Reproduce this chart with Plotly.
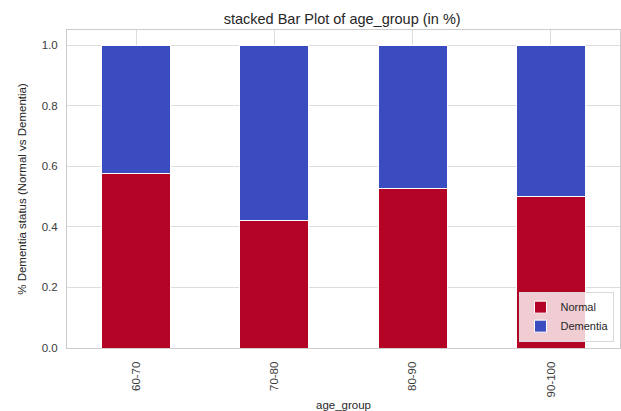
import plotly.graph_objects as go

categories = ["60-70", "70-80", "80-90", "90-100"]
normal = [0.577, 0.421, 0.527, 0.499]
dementia = [round(1 - v, 3) for v in normal]
y_ticks = [0.0, 0.2, 0.4, 0.6, 0.8, 1.0]

fig = go.Figure()
fig.add_trace(go.Bar(x=categories, y=normal, name="Normal", marker=dict(color="#b40426", line=dict(color="white", width=1)), width=0.5))
fig.add_trace(go.Bar(x=categories, y=dementia, name="Dementia", marker=dict(color="#3b4cc0", line=dict(color="white", width=1)), width=0.5))

font_family = "Liberation Sans, Arial, sans-serif"
fig.update_layout(
    barmode="stack",
    width=621, height=411,
    margin=dict(l=67, r=1, t=30, b=63),
    paper_bgcolor="white", plot_bgcolor="white",
    font=dict(family=font_family, color="#262626", size=11),
    title=dict(text="stacked Bar Plot of age_group (in %)", x=0.551, xanchor="center", y=0.955, yanchor="middle", font=dict(size=14.5, color="#262626")),
    legend=dict(x=0.99, y=0.02, xanchor="right", yanchor="bottom", bgcolor="rgba(255,255,255,0.8)", bordercolor="#d9d9d9", borderwidth=1,
                font=dict(size=11, color="#262626"), traceorder="normal", itemwidth=30, tracegroupgap=0),
    showlegend=True,
)
fig.update_xaxes(
    range=[-0.5, 3.5], tickangle=-90, showgrid=True, gridcolor="#dddddd", automargin=False,
    showline=True, linecolor="#cccccc", mirror=True, ticks="", ticklabelstandoff=8,
    title=dict(text="age_group", font=dict(size=11.5, color="#262626"), standoff=8),
    tickfont=dict(size=11.5, color="#3a3a3a"),
)
fig.update_yaxes(
    range=[0, 1.05], tickvals=y_ticks, ticktext=[f"{v:.1f}" for v in y_ticks],
    showgrid=True, gridcolor="#dddddd", showline=True, linecolor="#cccccc", mirror=True, automargin=False,
    zeroline=False, ticks="", ticklabelstandoff=6,
    title=dict(text="% Dementia status (Normal vs Dementia)", font=dict(size=11.5, color="#262626"), standoff=12),
    tickfont=dict(size=11.5, color="#3a3a3a"),
)
fig.write_html("out.html", config={"displayModeBar": False})

with open("out.html", "r", encoding="utf-8") as f:
    html = f.read()
html = html.replace("<head>", "<head><style>html,body{margin:0;padding:0;}</style>", 1)
with open("out.html", "w", encoding="utf-8") as f:
    f.write(html)
